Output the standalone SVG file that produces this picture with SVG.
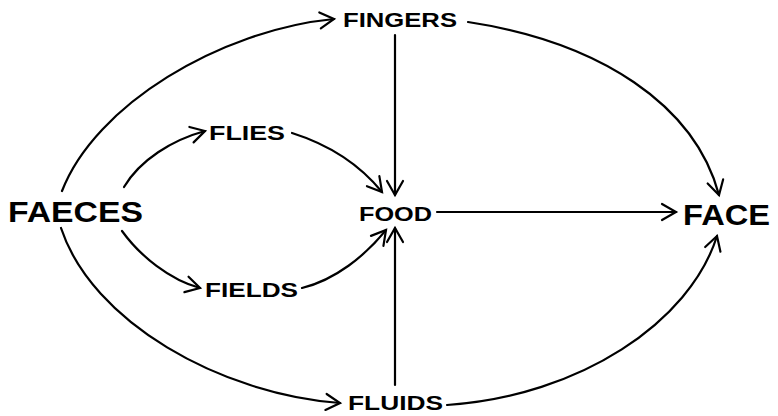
<svg xmlns="http://www.w3.org/2000/svg" width="778" height="416" viewBox="0 0 778 416">
<style>
.lbl{font-family:"Liberation Sans",Arial,sans-serif;font-weight:bold;fill:#000}
.big{font-size:29px}
.sm{font-size:20px}
.c{fill:none;stroke:#000;stroke-width:2.2;stroke-linecap:round}
</style>
<defs>
<marker id="ah" viewBox="0 0 20 20" refX="17" refY="10" markerWidth="20" markerHeight="20" markerUnits="userSpaceOnUse" orient="auto">
<path d="M3,2 L17,10 L3,18" fill="none" stroke="#000" stroke-width="2.2" stroke-linecap="round" stroke-linejoin="miter"/>
</marker>
</defs>
<rect width="778" height="416" fill="#fff"/>
<g id="connectors">
<path class="c" d="M62,191 C95,105 220,30 334,19" marker-end="url(#ah)"/>
<path class="c" d="M468,22 C600,42 695,105 719,195" marker-end="url(#ah)"/>
<path class="c" d="M395,35 L395,195" marker-end="url(#ah)"/>
<path class="c" d="M124,187 C140,160 172,140 205,131" marker-end="url(#ah)"/>
<path class="c" d="M292,133 C330,145 360,165 382,192" marker-end="url(#ah)"/>
<path class="c" d="M122,231 C140,256 170,280 200,288" marker-end="url(#ah)"/>
<path class="c" d="M302,288 C335,280 365,256 386,230" marker-end="url(#ah)"/>
<path class="c" d="M395,385 L395,228" marker-end="url(#ah)"/>
<path class="c" d="M437,212 L676,212" marker-end="url(#ah)"/>
<path class="c" d="M61,228 C92,322 220,394 340,403" marker-end="url(#ah)"/>
<path class="c" d="M447,405 C580,396 690,322 717,236" marker-end="url(#ah)"/>
</g>
<g id="faeces"><text class="lbl big" x="8" y="222" textLength="135" lengthAdjust="spacingAndGlyphs">FAECES</text></g>
<g id="face"><text class="lbl big" x="683" y="225" textLength="87" lengthAdjust="spacingAndGlyphs">FACE</text></g>
<g id="fingers"><text class="lbl sm" x="343" y="27" textLength="114" lengthAdjust="spacingAndGlyphs">FINGERS</text></g>
<g id="food"><text class="lbl sm" x="359" y="221" textLength="73" lengthAdjust="spacingAndGlyphs">FOOD</text></g>
<g id="flies"><text class="lbl sm" x="209" y="140" textLength="76" lengthAdjust="spacingAndGlyphs">FLIES</text></g>
<g id="fields"><text class="lbl sm" x="205" y="297" textLength="93" lengthAdjust="spacingAndGlyphs">FIELDS</text></g>
<g id="fluids"><text class="lbl sm" x="348" y="410" textLength="95" lengthAdjust="spacingAndGlyphs">FLUIDS</text></g>
</svg>
